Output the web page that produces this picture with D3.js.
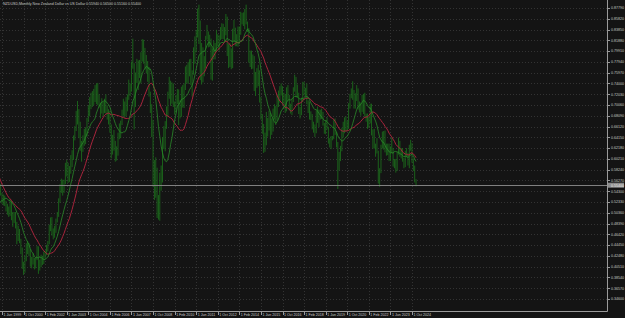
<!DOCTYPE html>
<html>
<head>
<meta charset="utf-8">
<script src="https://cdn.jsdelivr.net/npm/d3@7"></script>
<style>
  body { margin: 0; background: #141414; }
  svg { display: block; }
</style>
</head>
<body>
<svg id="chart"></svg>
<script>
var width = 625;
var height = 318;

// plot box (price axis on the right, date axis at the bottom)
var plotRight = 607;
var plotBottom = 311;

var title = "NZDUSD,Monthly  New Zealand Dollar vs US Dollar  0.55940 0.56500 0.55160 0.55400";

// first drawn bar is Apr 1999
var firstMonth = "1 Apr 1999";

// closes before the first drawn bar (May 1997 - Mar 1999), only used for the averages
var priorCloses = [0.685, 0.680, 0.665, 0.640, 0.635, 0.625, 0.590, 0.580,
  0.570, 0.575, 0.565, 0.545, 0.530, 0.510, 0.520, 0.490, 0.500, 0.530, 0.525, 0.525,
  0.535, 0.530, 0.540];

var highs = [
  0.553, 0.556, 0.540, 0.537, 0.535, 0.525, 0.520, 0.515, 0.528,
  0.525, 0.505, 0.505, 0.505, 0.487, 0.480, 0.474, 0.456, 0.440, 0.414, 0.425, 0.448,
  0.452, 0.448, 0.437, 0.423, 0.430, 0.421, 0.422, 0.443, 0.442, 0.418, 0.427, 0.425,
  0.433, 0.435, 0.445, 0.452, 0.482, 0.495, 0.496, 0.475, 0.480, 0.493, 0.505, 0.530,
  0.556, 0.566, 0.564, 0.564, 0.595, 0.600, 0.595, 0.589, 0.609, 0.618, 0.645, 0.662,
  0.690, 0.708, 0.693, 0.670, 0.635, 0.645, 0.657, 0.660, 0.677, 0.700, 0.715, 0.723,
  0.726, 0.730, 0.737, 0.740, 0.741, 0.720, 0.705, 0.713, 0.706, 0.712, 0.720, 0.700,
  0.693, 0.690, 0.665, 0.646, 0.655, 0.635, 0.625, 0.650, 0.667, 0.672, 0.692, 0.712,
  0.707, 0.715, 0.720, 0.747, 0.740, 0.780, 0.822, 0.777, 0.760, 0.785, 0.782, 0.783,
  0.797, 0.821, 0.820, 0.805, 0.792, 0.781, 0.770, 0.725, 0.702, 0.673, 0.600, 0.605,
  0.586, 0.536, 0.577, 0.590, 0.642, 0.662, 0.671, 0.698, 0.725, 0.752, 0.745, 0.742,
  0.740, 0.707, 0.719, 0.730, 0.729, 0.709, 0.734, 0.737, 0.740, 0.771, 0.774, 0.779,
  0.784, 0.785, 0.764, 0.806, 0.826, 0.838, 0.877, 0.884, 0.855, 0.814, 0.806, 0.790,
  0.827, 0.847, 0.835, 0.829, 0.822, 0.804, 0.818, 0.814, 0.838, 0.830, 0.828, 0.843,
  0.850, 0.849, 0.843, 0.867, 0.862, 0.812, 0.813, 0.804, 0.840, 0.856, 0.842, 0.830,
  0.844, 0.844, 0.871, 0.869, 0.870, 0.876, 0.884, 0.853, 0.841, 0.800, 0.800, 0.793,
  0.790, 0.761, 0.768, 0.774, 0.764, 0.715, 0.684, 0.666, 0.650, 0.688, 0.677, 0.690,
  0.686, 0.676, 0.694, 0.702, 0.699, 0.720, 0.727, 0.735, 0.740, 0.735, 0.723, 0.720,
  0.733, 0.737, 0.719, 0.703, 0.712, 0.733, 0.756, 0.752, 0.738, 0.723, 0.697, 0.714,
  0.743, 0.743, 0.732, 0.740, 0.709, 0.707, 0.689, 0.684, 0.670, 0.665, 0.691, 0.698,
  0.692, 0.692, 0.694, 0.688, 0.668, 0.673, 0.678, 0.661, 0.640, 0.644, 0.644, 0.675,
  0.676, 0.651, 0.633, 0.615, 0.626, 0.659, 0.670, 0.678, 0.680, 0.672, 0.704, 0.721,
  0.731, 0.744, 0.728, 0.722, 0.737, 0.731, 0.707, 0.705, 0.719, 0.721, 0.723, 0.685,
  0.685, 0.679, 0.703, 0.703, 0.656, 0.657, 0.630, 0.640, 0.617, 0.585, 0.628, 0.652,
  0.653, 0.654, 0.630, 0.630, 0.630, 0.625, 0.641, 0.622, 0.602, 0.602, 0.615, 0.641,
  0.635, 0.622, 0.622, 0.604, 0.617, 0.622, 0.613, 0.628, 0.637, 0.631, 0.603, 0.590,
  0.565];

var lows = [
  0.530, 0.535, 0.520, 0.517, 0.516, 0.506, 0.500, 0.496, 0.498,
  0.490, 0.478, 0.485, 0.475, 0.446, 0.452, 0.448, 0.428, 0.401, 0.390, 0.394, 0.415,
  0.428, 0.424, 0.405, 0.402, 0.409, 0.400, 0.402, 0.417, 0.392, 0.398, 0.404, 0.408,
  0.410, 0.420, 0.426, 0.433, 0.446, 0.470, 0.462, 0.455, 0.458, 0.467, 0.486, 0.496,
  0.522, 0.540, 0.535, 0.540, 0.556, 0.570, 0.558, 0.560, 0.575, 0.587, 0.600, 0.636,
  0.653, 0.665, 0.640, 0.617, 0.597, 0.615, 0.626, 0.629, 0.643, 0.669, 0.680, 0.693,
  0.697, 0.700, 0.706, 0.702, 0.700, 0.696, 0.676, 0.685, 0.680, 0.686, 0.685, 0.674,
  0.665, 0.650, 0.603, 0.610, 0.617, 0.597, 0.599, 0.608, 0.638, 0.640, 0.664, 0.681,
  0.677, 0.680, 0.689, 0.710, 0.717, 0.725, 0.767, 0.656, 0.697, 0.741, 0.728, 0.750,
  0.740, 0.780, 0.776, 0.766, 0.758, 0.743, 0.716, 0.686, 0.642, 0.551, 0.527, 0.531,
  0.494, 0.491, 0.489, 0.544, 0.559, 0.620, 0.616, 0.657, 0.679, 0.712, 0.699, 0.703,
  0.697, 0.683, 0.687, 0.702, 0.664, 0.676, 0.679, 0.696, 0.695, 0.728, 0.741, 0.739,
  0.753, 0.737, 0.716, 0.756, 0.776, 0.797, 0.824, 0.812, 0.746, 0.738, 0.742, 0.753,
  0.768, 0.820, 0.806, 0.807, 0.747, 0.745, 0.784, 0.784, 0.798, 0.808, 0.800, 0.819,
  0.821, 0.821, 0.816, 0.828, 0.790, 0.768, 0.770, 0.766, 0.768, 0.817, 0.808, 0.808,
  0.807, 0.812, 0.829, 0.848, 0.845, 0.839, 0.848, 0.834, 0.778, 0.770, 0.766, 0.767,
  0.726, 0.717, 0.732, 0.735, 0.705, 0.674, 0.648, 0.613, 0.615, 0.627, 0.643, 0.654,
  0.638, 0.646, 0.652, 0.674, 0.664, 0.672, 0.697, 0.705, 0.718, 0.701, 0.694, 0.686,
  0.689, 0.710, 0.691, 0.685, 0.682, 0.706, 0.725, 0.715, 0.714, 0.684, 0.676, 0.682,
  0.706, 0.718, 0.715, 0.702, 0.686, 0.674, 0.673, 0.656, 0.650, 0.642, 0.649, 0.668,
  0.660, 0.674, 0.675, 0.663, 0.648, 0.647, 0.656, 0.630, 0.623, 0.620, 0.636, 0.638,
  0.646, 0.623, 0.547, 0.581, 0.598, 0.616, 0.641, 0.649, 0.652, 0.653, 0.657, 0.694,
  0.713, 0.710, 0.694, 0.694, 0.708, 0.692, 0.687, 0.681, 0.688, 0.684, 0.679, 0.670,
  0.657, 0.659, 0.667, 0.645, 0.621, 0.621, 0.606, 0.612, 0.557, 0.551, 0.576, 0.621,
  0.619, 0.614, 0.608, 0.609, 0.598, 0.598, 0.612, 0.588, 0.585, 0.577, 0.580, 0.610,
  0.606, 0.603, 0.597, 0.585, 0.587, 0.605, 0.590, 0.585, 0.617, 0.595, 0.580, 0.559,
  0.552];

var closes = [
  0.548, 0.538, 0.532, 0.530, 0.520, 0.512, 0.508, 0.500, 0.521,
  0.500, 0.492, 0.496, 0.483, 0.457, 0.472, 0.453, 0.436, 0.405, 0.398, 0.420, 0.445,
  0.444, 0.434, 0.409, 0.417, 0.419, 0.408, 0.420, 0.440, 0.401, 0.410, 0.418, 0.417,
  0.427, 0.429, 0.440, 0.448, 0.478, 0.490, 0.475, 0.462, 0.470, 0.490, 0.500, 0.524,
  0.548, 0.557, 0.557, 0.560, 0.587, 0.584, 0.582, 0.584, 0.603, 0.605, 0.642, 0.654,
  0.672, 0.692, 0.664, 0.624, 0.626, 0.630, 0.632, 0.655, 0.676, 0.688, 0.714, 0.721,
  0.716, 0.721, 0.712, 0.739, 0.707, 0.698, 0.686, 0.692, 0.692, 0.705, 0.698, 0.683,
  0.687, 0.665, 0.613, 0.640, 0.633, 0.609, 0.612, 0.643, 0.652, 0.670, 0.687, 0.704,
  0.688, 0.708, 0.715, 0.744, 0.735, 0.775, 0.777, 0.700, 0.754, 0.771, 0.759, 0.769,
  0.790, 0.805, 0.789, 0.785, 0.780, 0.763, 0.727, 0.705, 0.668, 0.585, 0.548, 0.581,
  0.505, 0.503, 0.573, 0.567, 0.634, 0.647, 0.666, 0.686, 0.722, 0.725, 0.729, 0.726,
  0.700, 0.699, 0.709, 0.726, 0.682, 0.693, 0.731, 0.699, 0.736, 0.764, 0.749, 0.777,
  0.774, 0.749, 0.762, 0.805, 0.823, 0.829, 0.876, 0.852, 0.758, 0.802, 0.776, 0.776,
  0.826, 0.832, 0.818, 0.817, 0.757, 0.802, 0.810, 0.805, 0.829, 0.820, 0.825, 0.827,
  0.838, 0.827, 0.836, 0.860, 0.794, 0.775, 0.799, 0.771, 0.830, 0.827, 0.816, 0.822,
  0.807, 0.839, 0.868, 0.860, 0.847, 0.875, 0.850, 0.836, 0.780, 0.781, 0.789, 0.780,
  0.726, 0.755, 0.749, 0.763, 0.709, 0.676, 0.660, 0.634, 0.639, 0.676, 0.657, 0.684,
  0.647, 0.666, 0.691, 0.697, 0.676, 0.712, 0.720, 0.724, 0.728, 0.714, 0.710, 0.694,
  0.731, 0.718, 0.700, 0.687, 0.708, 0.733, 0.751, 0.718, 0.722, 0.685, 0.685, 0.709,
  0.737, 0.722, 0.722, 0.703, 0.693, 0.677, 0.681, 0.662, 0.663, 0.652, 0.688, 0.671,
  0.691, 0.681, 0.681, 0.668, 0.653, 0.672, 0.657, 0.631, 0.626, 0.642, 0.642, 0.674,
  0.647, 0.624, 0.596, 0.613, 0.620, 0.645, 0.664, 0.674, 0.661, 0.661, 0.702, 0.720,
  0.718, 0.723, 0.698, 0.716, 0.729, 0.699, 0.698, 0.704, 0.690, 0.717, 0.682, 0.684,
  0.658, 0.676, 0.695, 0.646, 0.652, 0.622, 0.628, 0.612, 0.560, 0.583, 0.627, 0.635,
  0.647, 0.618, 0.627, 0.618, 0.603, 0.614, 0.621, 0.596, 0.600, 0.583, 0.614, 0.632,
  0.611, 0.609, 0.598, 0.592, 0.614, 0.609, 0.596, 0.625, 0.632, 0.597, 0.583, 0.559,
  0.554];

// price scale labels
var priceTicks = [0.87790, 0.85820, 0.83850, 0.81880, 0.79910, 0.77940, 0.75970, 0.74000,
  0.72030, 0.70060, 0.68090, 0.66120, 0.64150, 0.62180, 0.60210, 0.58240, 0.56270,
  0.54300, 0.52330, 0.50360, 0.48390, 0.46420, 0.44450, 0.42480, 0.40510, 0.38540,
  0.36570, 0.34600];

// date labels
var dateTicks = ["1 Jun 1999", "1 Oct 2000", "1 Feb 2002", "1 Jun 2003", "1 Oct 2004",
  "1 Feb 2006", "1 Jun 2007", "1 Oct 2008", "1 Feb 2010", "1 Jun 2011", "1 Oct 2012",
  "1 Feb 2014", "1 Jun 2015", "1 Oct 2016", "1 Feb 2018", "1 Jun 2019", "1 Oct 2020",
  "1 Feb 2022", "1 Jun 2023", "1 Oct 2024"];

var fastPeriod = 12;
var slowPeriod = 24;

var fontSize = 3.6;

var parse = d3.timeParse("%d %b %Y");
var base = parse(dateTicks[0]);
var monthIndex = function(date)
{
  return (date.getFullYear() - base.getFullYear()) * 12 + date.getMonth() - base.getMonth();
};

var start = monthIndex(parse(firstMonth));
var lastTick = monthIndex(parse(dateTicks[dateTicks.length - 1]));

var x = d3.scaleLinear()
          .domain([0, lastTick])
          .range([2, 412]);

var y = d3.scaleLinear()
          .domain([priceTicks[priceTicks.length - 1], priceTicks[0]])
          .range([299, 8]);

var bars = highs.map(function(h, i)
{
  return {m: start + i, high: h, low: lows[i], close: closes[i]};
});

var allCloses = priorCloses.concat(closes);
var sma = function(period)
{
  return bars.map(function(d, i)
  {
    var end = priorCloses.length + i;
    return {m: d.m, v: d3.mean(allCloses.slice(end - period + 1, end + 1))};
  });
};

var svg = d3.select("#chart")
            .attr("width", width)
            .attr("height", height)
            .style("font-family", "'Liberation Sans', Arial, sans-serif");

svg.append("rect")
   .attr("width", width)
   .attr("height", height)
   .attr("fill", "#141414");

svg.append("clipPath")
   .attr("id", "plot")
   .append("rect")
   .attr("width", plotRight)
   .attr("height", plotBottom);

/* grid */
var grid = svg.append("g")
              .attr("stroke", "#333333")
              .attr("stroke-width", 1)
              .attr("stroke-dasharray", "1,2");

grid.selectAll("line.h")
    .data(priceTicks)
    .enter()
    .append("line")
    .attr("x1", 0)
    .attr("x2", plotRight)
    .attr("y1", function(d) { return Math.round(y(d)) + 0.5; })
    .attr("y2", function(d) { return Math.round(y(d)) + 0.5; });

grid.selectAll("line.v")
    .data(dateTicks)
    .enter()
    .append("line")
    .attr("x1", function(d) { return Math.round(x(monthIndex(parse(d)))) + 0.5; })
    .attr("x2", function(d) { return Math.round(x(monthIndex(parse(d)))) + 0.5; })
    .attr("y1", 0)
    .attr("y2", plotBottom);

/* price bars */
var plot = svg.append("g").attr("clip-path", "url(#plot)");

plot.selectAll("line.bar")
    .data(bars)
    .enter()
    .append("line")
    .attr("x1", function(d) { return x(d.m); })
    .attr("x2", function(d) { return x(d.m); })
    .attr("y1", function(d) { return y(d.high); })
    .attr("y2", function(d) { return y(d.low); })
    .attr("stroke", "#1c6a1c")
    .attr("stroke-width", 0.9);

/* moving averages */
var line = d3.line()
             .x(function(d) { return x(d.m); })
             .y(function(d) { return y(d.v); });

plot.append("path")
    .datum(sma(slowPeriod))
    .attr("d", line)
    .attr("fill", "none")
    .attr("stroke", "#a8243c")
    .attr("stroke-width", 1);

plot.append("path")
    .datum(sma(fastPeriod))
    .attr("d", line)
    .attr("fill", "none")
    .attr("stroke", "#2a8a2a")
    .attr("stroke-width", 0.8);

/* current price line */
var last = bars[bars.length - 1];
plot.append("line")
    .attr("x1", 0)
    .attr("x2", plotRight)
    .attr("y1", Math.round(y(last.close)) + 0.5)
    .attr("y2", Math.round(y(last.close)) + 0.5)
    .attr("stroke", "#808080")
    .attr("stroke-width", 1);

/* axes frame */
svg.append("path")
   .attr("d", "M" + (plotRight + 0.5) + ",0V" + (plotBottom + 0.5) + "H0")
   .attr("fill", "none")
   .attr("stroke", "#9a9a9a")
   .attr("stroke-width", 1);

/* price labels */
var yAxis = svg.append("g");

yAxis.selectAll("line")
     .data(priceTicks)
     .enter()
     .append("line")
     .attr("x1", plotRight)
     .attr("x2", plotRight + 3)
     .attr("y1", function(d) { return Math.round(y(d)) + 0.5; })
     .attr("y2", function(d) { return Math.round(y(d)) + 0.5; })
     .attr("stroke", "#9a9a9a");

yAxis.selectAll("text")
     .data(priceTicks)
     .enter()
     .append("text")
     .text(function(d) { return d.toFixed(5); })
     .attr("x", plotRight + 4)
     .attr("y", function(d) { return y(d) + 1.3; })
     .attr("fill", "#c8c8c8")
     .attr("font-size", fontSize);

yAxis.append("rect")
     .attr("x", plotRight + 1)
     .attr("y", y(last.close) - 2.5)
     .attr("width", 16)
     .attr("height", 5)
     .attr("fill", "#8c8c8c");

yAxis.append("text")
     .text(last.close.toFixed(5))
     .attr("x", plotRight + 4)
     .attr("y", y(last.close) + 1.3)
     .attr("fill", "#f0f0f0")
     .attr("font-size", fontSize);

/* date labels */
var xAxis = svg.append("g");

xAxis.selectAll("line")
     .data(dateTicks)
     .enter()
     .append("line")
     .attr("x1", function(d) { return Math.round(x(monthIndex(parse(d)))) + 0.5; })
     .attr("x2", function(d) { return Math.round(x(monthIndex(parse(d)))) + 0.5; })
     .attr("y1", plotBottom)
     .attr("y2", plotBottom + 4)
     .attr("stroke", "#9a9a9a");

xAxis.selectAll("text")
     .data(dateTicks)
     .enter()
     .append("text")
     .text(function(d) { return d; })
     .attr("x", function(d) { return x(monthIndex(parse(d))) + 1.5; })
     .attr("y", plotBottom + 5)
     .attr("fill", "#c8c8c8")
     .attr("font-size", fontSize);

svg.append("text")
   .text(title)
   .attr("x", 3)
   .attr("y", 5)
   .attr("fill", "#c8c8c8")
   .attr("font-size", fontSize);
</script>
</body>
</html>
